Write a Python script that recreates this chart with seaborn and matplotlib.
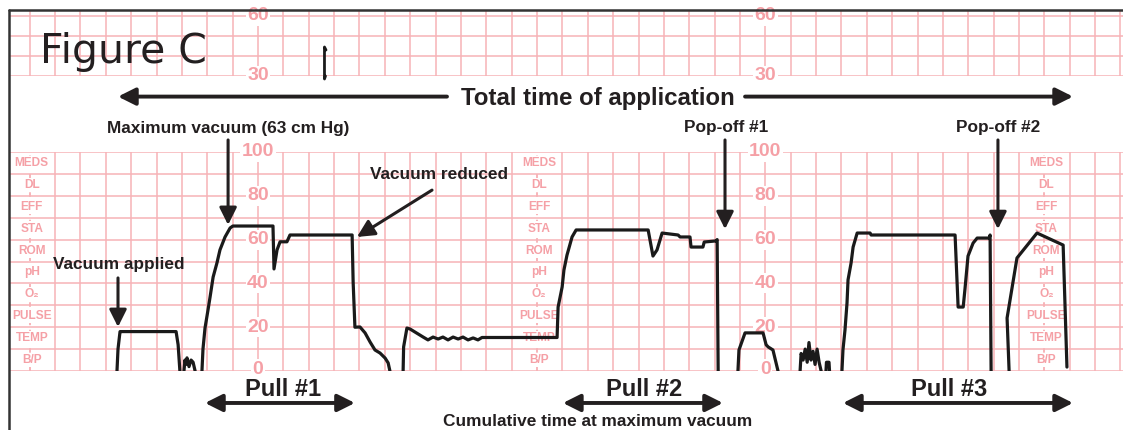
import matplotlib
matplotlib.use('Agg')
import numpy as np
import pandas as pd
import matplotlib.pyplot as plt
import seaborn as sns
from matplotlib.lines import Line2D

# time in seconds (one paper box = 10 s), vacuum in cm Hg
applied_t = [44.4, 44.8, 45.6, 46.4, 67.7, 68.5, 69.2]
applied_v = [0, 10, 18, 18, 18, 12, 0]

blips1_t = [70.8, 71.2, 71.6, 72.0, 72.8, 73.6, 74.4, 75.2]
blips1_v = [0, 5, 3, 6, 2, 5, 4, 0]

pull1_t = [77.9, 78.3, 79.1, 80.3, 81.1, 82.3, 83.8, 85.0, 87.0, 89.0, 90.1,
           105.9, 106.3, 107.5, 108.7, 111.4, 112.6, 137.1, 137.5, 138.2,
           140.2, 142.2, 144.2, 146.1, 148.1, 150.1, 151.3, 152.0]
pull1_v = [0, 10, 19.6, 28, 33.8, 42.9, 49.3, 55.3, 61.2, 65.3, 66.2,
           66.2, 46.6, 55.3, 59, 59, 62.1, 62.1, 40.6, 20,
           20.1, 17.4, 13.2, 9.6, 8.2, 5.9, 3.7, 0]

pull2_t = [157.2, 157.4, 158.7, 159.9, 165.1, 167.0, 169.0, 171.0, 172.9, 174.9,
           176.9, 178.9, 180.8, 182.8, 184.8, 186.7, 188.3, 217.9, 218.3, 219.9,
           220.6, 221.8, 223.8, 225.4, 253.8, 255.7, 257.3, 259.3, 265.6, 266.4,
           270.3, 270.7, 275.4, 275.9, 280.6, 281.0, 281.4]
pull2_v = [0, 11, 19.6, 19.2, 15.5, 14.2, 15.5, 14.6, 15.5, 14.2,
           15.5, 14.6, 15.5, 14.2, 15.1, 14.2, 15.3, 15.3, 29.2, 38.4,
           46.1, 52.9, 61.2, 64.4, 64.4, 52.5, 55.3, 63.0, 62.1, 61.2,
           61.2, 56.6, 56.6, 58.9, 59.4, 60, 0]

short_t = [289.2, 289.6, 292.0, 299.1, 300.3, 301.1, 303.0, 305.0]
short_v = [0, 9.6, 17.4, 17.4, 12, 11, 9.6, 0]

blips2_t = [313.7, 314.1, 314.9, 315.7, 316.5, 317.2, 318.0, 318.8, 319.6,
            320.4, 321.2, 322.0]
blips2_v = [0, 8, 5, 10, 4, 13, 5, 9, 3, 10, 4, 0]

blips3_t = [323.9, 324.1, 325.1, 325.3]
blips3_v = [0, 4, 4, 0]

pull3_t = [330.2, 330.6, 331.4, 332.2, 332.6, 333.8, 334.6, 336.2, 341.3, 341.7,
           374.8, 376.0, 378.0, 378.7, 379.9, 381.9, 383.5, 388.2, 388.6, 389.0]
pull3_v = [0, 9.6, 18.7, 31.1, 41.6, 49.3, 56.6, 63, 63, 62.1,
           62.1, 29.2, 29.2, 37.4, 52.5, 58.4, 60.7, 60.7, 62.1, 0]

last_t = [396.1, 395.3, 399.2, 407.1, 417.4, 418.9]
last_v = [0, 24.2, 51.6, 63, 57.5, 1.8]

# little stray mark on the upper (heart rate) strip
mark_t = [126.8, 126.2, 126.2, 126.6]
mark_v = [43, 44.5, 28.5, 30]

row_labels = ['MEDS', 'DL', 'EFF', 'STA', 'ROM', 'pH', 'O₂', 'PULSE', 'TEMP', 'B/P']
row_centers = [95, 85, 75, 65, 55, 45, 35, 25, 15, 5]
scale_main = [100, 80, 60, 40, 20, 0]
scale_top = [60, 30]
scale_cols = [100, 300]
meds_cols = [10, 210, 410]

ink = '#231f20'
grid_c = '#f7b3b7'
label_c = '#f5a0a6'

sns.set_theme(style='white')
plt.rcParams['font.family'] = ['Liberation Sans', 'DejaVu Sans']

fig = plt.figure(figsize=(11.23, 4.30), dpi=100)
xlim = (1.83, 441.0)
ax = fig.add_axes([9 / 1123, 59 / 430, 1114 / 1123, 219 / 430])
ax_top = fig.add_axes([9 / 1123, 354 / 430, 1114 / 1123, 66 / 430])

# paper grid
cols = [c for c in range(10, 441, 10)]
ax.vlines([c for c in cols if c not in meds_cols], 0, 100, color=grid_c, lw=1.1, zorder=1)
ax.vlines(meds_cols, 0, 100, color=label_c, lw=1.1, linestyles=(0, (3, 3)), zorder=1)
ax.hlines(range(0, 101, 10), xlim[0], xlim[1], color=grid_c, lw=1.1, zorder=1)
ax_top.vlines(cols, 30, 63, color=grid_c, lw=1.1, zorder=1)
ax_top.hlines(range(30, 61, 10), xlim[0], xlim[1], color=grid_c, lw=1.1, zorder=1)

for c in scale_cols:
    for s in scale_main:
        ax.text(c, s + (0.8 if s == 0 else 0), str(s), ha='center', va='center',
                fontsize=14, fontweight='bold', color=label_c, zorder=3,
                bbox=dict(boxstyle='square,pad=0.08', fc='white', ec='none'))
    for s in scale_top:
        ax_top.text(c, s, str(s), ha='center', va='center', fontsize=14, fontweight='bold',
                    color=label_c, zorder=3,
                    bbox=dict(boxstyle='square,pad=0.08', fc='white', ec='none'))

for c in meds_cols:
    for lab, y in zip(row_labels, row_centers):
        ax.text(c + 0.8, y, lab, ha='center', va='center', fontsize=8.6, fontweight='bold',
                color=label_c, zorder=3,
                bbox=dict(boxstyle='square,pad=0.1', fc='white', ec='none'))

# vacuum trace
segments = {
    'applied': (applied_t, applied_v), 'blips1': (blips1_t, blips1_v),
    'pull1': (pull1_t, pull1_v), 'pull2': (pull2_t, pull2_v),
    'short': (short_t, short_v), 'blips2': (blips2_t, blips2_v),
    'blips3': (blips3_t, blips3_v), 'pull3': (pull3_t, pull3_v),
    'last': (last_t, last_v),
}
df = pd.concat([pd.DataFrame({'time': t, 'vacuum': v, 'segment': name})
                for name, (t, v) in segments.items()], ignore_index=True)
sns.lineplot(data=df, x='time', y='vacuum', units='segment', estimator=None, sort=False,
             color='#1a1a1a', lw=2.3, ax=ax, zorder=5, legend=False)
ax_top.plot(mark_t, mark_v, color='#1a1a1a', lw=2.0, clip_on=False, zorder=5)

for a, lim in ((ax, (0, 100)), (ax_top, (30, 63))):
    a.set_xlim(*xlim)
    a.set_ylim(*lim)
    a.axis('off')

# annotations
def arrow(a, start, tip, style='-|>', lw=2.2):
    a.annotate('', xy=tip, xytext=start, annotation_clip=False,
               arrowprops=dict(arrowstyle=style, mutation_scale=26, lw=lw, color=ink,
                               shrinkA=0, shrinkB=0))

txt = dict(color=ink, fontweight='bold', ha='center', va='baseline')

ax_top.text(14.1, 36.5, 'Figure C', fontsize=29.5, family=['DejaVu Sans'],
            fontweight='normal', color=ink, ha='left', va='baseline', zorder=6)

ax.text(234.0, 121.5, 'Total time of application', fontsize=17.3, **txt)
arrow(ax, (174.5, 125.3), (44.8, 125.3), lw=2.8)
arrow(ax, (292.0, 125.3), (421.3, 125.3), lw=2.8)

ax.text(88.4, 108.8, 'Maximum vacuum (63 cm Hg)', fontsize=12.4, **txt)
arrow(ax, (88.2, 105.5), (88.2, 66.7))
ax.text(171.4, 87.7, 'Vacuum reduced', fontsize=12.4, **txt)
arrow(ax, (168.6, 82.6), (139.0, 61.2))
ax.text(45.2, 46.6, 'Vacuum applied', fontsize=12.4, **txt)
arrow(ax, (44.8, 42.5), (44.8, 20.1))
ax.text(284.5, 109.1, 'Pop-off #1', fontsize=12.4, **txt)
arrow(ax, (284.1, 105.5), (284.1, 64.8))
ax.text(391.9, 109.1, 'Pop-off #2', fontsize=12.4, **txt)
arrow(ax, (391.7, 105.5), (391.7, 64.8))

for label, cx, x0, x1 in (('Pull #1', 109.7, 79.1, 138.2),
                          ('Pull #2', 252.2, 220.2, 283.3),
                          ('Pull #3', 372.4, 330.6, 421.3)):
    ax.text(cx, -11.4, label, fontsize=17, **txt)
    arrow(ax, (x0, -14.6), (x1, -14.6), style='<|-|>', lw=2.8)

ax.text(233.8, -25.1, 'Cumulative time at maximum vacuum', fontsize=12.4, **txt)

# page frame
fig.add_artist(Line2D([9 / 1123, 9 / 1123], [0, 420 / 430], transform=fig.transFigure,
                      color='#333333', lw=1.8))
fig.add_artist(Line2D([9 / 1123, 1.0], [420 / 430, 420 / 430], transform=fig.transFigure,
                      color='#333333', lw=1.8))

fig.savefig('out.png', dpi=100, facecolor='white')
